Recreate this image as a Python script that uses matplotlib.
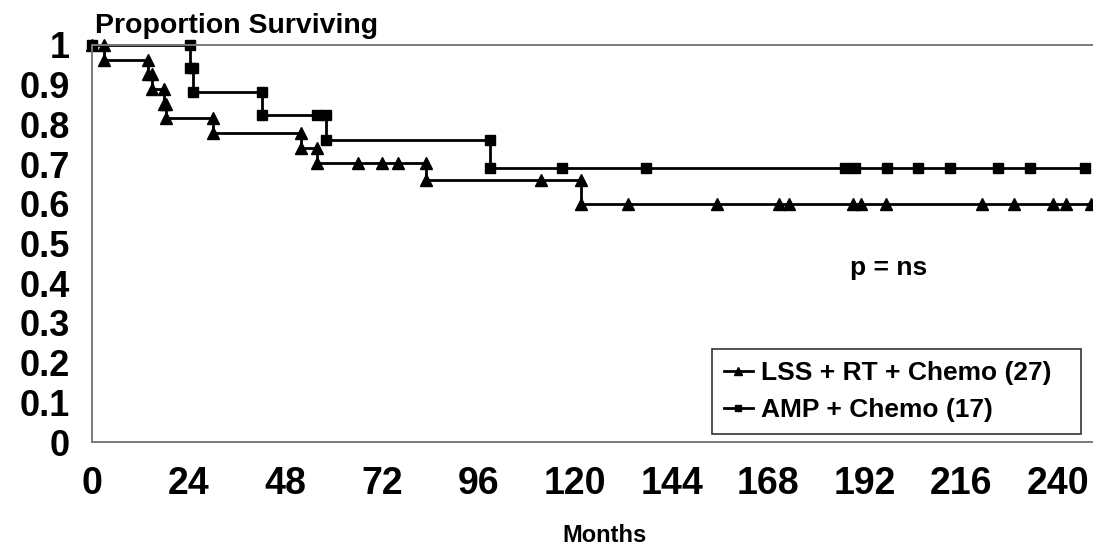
import matplotlib
matplotlib.use("Agg")
import matplotlib.pyplot as plt
import numpy as np

plt.rcParams['font.family'] = ['Liberation Sans', 'DejaVu Sans']
plt.rcParams['font.weight'] = 'bold'

# survival values (months, proportion surviving)
lss_event_months = [3, 14, 15, 18, 18.5, 30, 52, 56, 83, 121.5]
lss_event_surv = [0.963, 0.926, 0.889, 0.852, 0.815, 0.778, 0.741, 0.704, 0.66, 0.60]
lss_censor_months = [66, 72, 76, 111.5, 133.2, 155.4, 170.8, 173.2, 189, 191,
                     197.3, 221.1, 229, 238.8, 241.9, 248.2]

amp_event_months = [24.3, 25.2, 42.3, 58.2, 98.8]
amp_event_surv = [0.941, 0.882, 0.824, 0.76, 0.69]
amp_censor_months = [55.8, 116.7, 137.6, 187, 189.6, 197.4, 205.3, 213.2,
                     225.2, 233, 246.7]

x_ticks = [0, 24, 48, 72, 96, 120, 144, 168, 192, 216, 240]
y_ticks = [0, 0.1, 0.2, 0.3, 0.4, 0.5, 0.6, 0.7, 0.8, 0.9, 1]
y_tick_labels = ['0', '0.1', '0.2', '0.3', '0.4', '0.5', '0.6', '0.7', '0.8', '0.9', '1']


def km_vertices(event_t, event_s, censor_t):
    # step curve: one point before and after each death, one point per censor
    rows = [(t, 0, s) for t, s in zip(event_t, event_s)] + [(t, 1, None) for t in censor_t]
    rows.sort(key=lambda r: (r[0], r[1]))
    xs, ys = [0.0], [1.0]
    level = 1.0
    for t, kind, s in rows:
        if kind == 0:
            xs += [t, t]
            ys += [level, s]
            level = s
        else:
            xs.append(t)
            ys.append(level)
    return np.array(xs), np.array(ys)


fig = plt.figure(figsize=(10.93, 5.49), dpi=100)
ax = fig.add_axes([92 / 1093, 1 - 442 / 549, 1 - 92 / 1093, (442 - 45) / 549])

lx, ly = km_vertices(lss_event_months, lss_event_surv, lss_censor_months)
ax.plot(lx, ly, color='black', lw=2, marker='^', ms=8,
        label='LSS + RT + Chemo (27)', clip_on=False)
axx, axy = km_vertices(amp_event_months, amp_event_surv, amp_censor_months)
ax.plot(axx, axy, color='black', lw=2, marker='s', ms=6.5,
        label='AMP + Chemo (17)', clip_on=False)

ax.set_xlim(0, 248.7)
ax.set_ylim(0, 1)
ax.set_xticks(x_ticks)
ax.set_yticks(y_ticks)
ax.set_yticklabels(y_tick_labels)
ax.tick_params(axis='x', length=0, pad=17, labelsize=27)
ax.tick_params(axis='y', length=0, pad=16, labelsize=26)
for lab in ax.get_xticklabels() + ax.get_yticklabels():
    lab.set_fontweight('bold')

for side in ['left', 'bottom', 'top']:
    ax.spines[side].set_color('#7a7a7a')
    ax.spines[side].set_linewidth(1.4)
ax.spines['right'].set_visible(False)

fig.text(95 / 1093, 1 - 33 / 549, 'Proportion Surviving', fontsize=20.5,
         fontweight='bold', ha='left', va='baseline')
fig.text(605 / 1093, 1 - 536 / 549, 'Months', fontsize=17,
         fontweight='bold', ha='center', va='center')
fig.text(889 / 1093, 1 - 268 / 549, 'p = ns', fontsize=19,
         fontweight='bold', ha='center', va='center')

leg = ax.legend(loc='upper left',
                bbox_to_anchor=(712 / 1093, 1 - 349 / 549, (1081 - 712) / 1093, 0),
                bbox_transform=fig.transFigure, mode='expand', fontsize=19,
                frameon=True, fancybox=False, edgecolor='black', handlelength=1.1,
                handletextpad=0.3, borderpad=0.45, labelspacing=0.5,
                markerscale=0.65, borderaxespad=0)
leg.get_frame().set_linewidth(1.2)
for t in leg.get_texts():
    t.set_fontweight('bold')

fig.savefig('out.png', dpi=100)
